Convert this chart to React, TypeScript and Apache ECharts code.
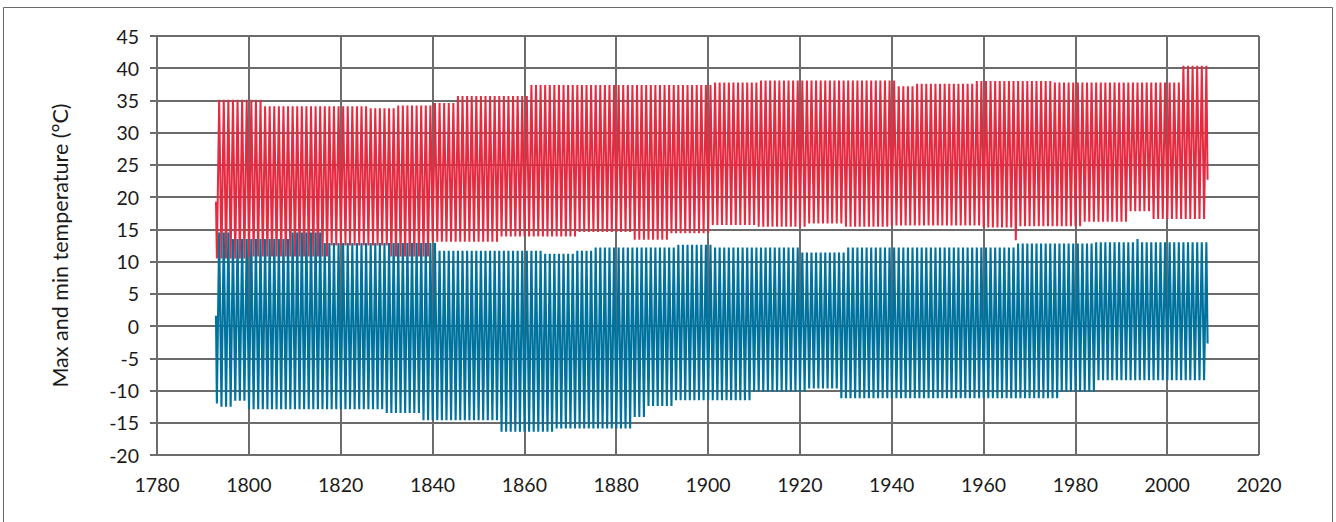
import React, { useEffect, useRef } from "react";
import * as echarts from "echarts";

// X-axis ticks (years) and Y-axis ticks (°C)
const xTicks = [1780, 1800, 1820, 1840, 1860, 1880, 1900, 1920, 1940, 1960, 1980, 2000, 2020];
const yTicks = [-20, -15, -10, -5, 0, 5, 10, 15, 20, 25, 30, 35, 40, 45];

const firstYear = 1793;
const lastYear = 2008;

// Max temperature: summer peaks (value holds from the given year until the next block)
const maxTopFrom = [1793, 1803, 1826, 1832, 1840, 1845, 1861, 1901, 1911, 1941, 1945, 1958, 1975, 2003];
const maxTopVal = [35.1, 34.1, 33.8, 34.2, 34.6, 35.7, 37.4, 37.8, 38.1, 37.2, 37.6, 38.0, 37.8, 40.4];
// Max temperature: winter troughs
const maxLowFrom = [1793, 1800, 1818, 1831, 1840, 1855, 1872, 1884, 1892, 1901, 1911, 1922, 1930, 1940, 1960, 1967, 1968, 1982, 1992, 1997];
const maxLowVal = [10.5, 10.8, 12.5, 10.8, 13.1, 13.9, 14.6, 13.4, 14.4, 15.7, 15.4, 15.9, 15.4, 15.6, 15.3, 13.3, 15.5, 16.2, 17.8, 16.6];

// Min temperature: summer peaks
const minTopFrom = [1793, 1796, 1809, 1816, 1841, 1864, 1871, 1875, 1893, 1901, 1920, 1930, 1967, 1984, 1993, 1994];
const minTopVal = [14.5, 13.5, 14.5, 12.9, 11.7, 11.2, 11.7, 12.2, 12.6, 12.2, 11.4, 12.2, 12.8, 13.0, 13.5, 13.0];
// Min temperature: winter troughs
const minLowFrom = [1793, 1794, 1797, 1800, 1830, 1838, 1855, 1867, 1884, 1887, 1893, 1910, 1922, 1929, 1977, 1985];
const minLowVal = [-12.0, -12.5, -11.6, -12.9, -13.5, -14.6, -16.4, -15.9, -14.1, -12.4, -11.5, -10.2, -9.7, -11.2, -10.2, -8.4];

// First and last (partial-year) readings
const startTime = 1792.85;
const startMax = 19.3;
const startMin = 1.6;
const endTime = 2008.8;
const endMax = 22.7;
const endMin = -2.7;

const lookup = (from: number[], val: number[], year: number) => {
  let v = val[0];
  for (let i = 0; i < from.length; i++) {
    if (year >= from[i]) v = val[i];
  }
  return v;
};

const build = (
  lowFrom: number[], lowVal: number[], topFrom: number[], topVal: number[],
  s: number, e: number
) => {
  const pts: number[][] = [[startTime, s]];
  for (let y = firstYear; y <= lastYear; y++) {
    pts.push([y + 0.04, lookup(lowFrom, lowVal, y)]);
    pts.push([y + 0.54, lookup(topFrom, topVal, y)]);
  }
  pts.push([endTime, e]);
  return pts;
};

const maxSeries = build(maxLowFrom, maxLowVal, maxTopFrom, maxTopVal, startMax, endMax);
const minSeries = build(minLowFrom, minLowVal, minTopFrom, minTopVal, startMin, endMin);

const FONT = "Lato, 'Open Sans', sans-serif";
const GRID_COLOR = "#6c6c6c";

export default function App() {
  const ref = useRef<HTMLDivElement>(null);
  useEffect(() => {
    if (!ref.current) return;
    const chart = echarts.init(ref.current, undefined, { renderer: "svg" });
    chart.setOption({
      animation: false,
      backgroundColor: "#ffffff",
      graphic: [
        {
          type: "rect",
          shape: { x: 3.5, y: 7.5, width: 1329, height: 530 },
          style: { fill: "none", stroke: "#6a6a6a", lineWidth: 1 },
          silent: true,
        },
      ],
      grid: { left: 157, right: 77, top: 36, bottom: 67, containLabel: false },
      xAxis: {
        type: "value",
        min: xTicks[0],
        max: xTicks[xTicks.length - 1],
        interval: xTicks[1] - xTicks[0],
        axisLine: { show: true, lineStyle: { color: GRID_COLOR, width: 2 } },
        axisTick: { show: true, length: 7, lineStyle: { color: GRID_COLOR, width: 2 } },
        splitLine: { show: true, lineStyle: { color: GRID_COLOR, width: 2 } },
        axisLabel: {
          color: "#1a1a1a",
          fontSize: 19.5,
          fontFamily: FONT,
          margin: 19,
          formatter: (v: number) => String(v),
        },
      },
      yAxis: {
        type: "value",
        min: yTicks[0],
        max: yTicks[yTicks.length - 1],
        interval: yTicks[1] - yTicks[0],
        name: "Max and min temperature (°C)",
        nameLocation: "middle",
        nameGap: 86,
        nameTextStyle: { color: "#1a1a1a", fontSize: 21.5, fontFamily: FONT },
        axisLine: { show: true, lineStyle: { color: GRID_COLOR, width: 2 } },
        axisTick: { show: true, length: 7, lineStyle: { color: GRID_COLOR, width: 2 } },
        splitLine: { show: true, lineStyle: { color: GRID_COLOR, width: 2 } },
        axisLabel: {
          color: "#1a1a1a",
          fontSize: 19.5,
          fontFamily: FONT,
          margin: 18,
          formatter: (v: number) => String(v),
        },
      },
      series: [
        {
          name: "Max",
          type: "line",
          data: maxSeries,
          showSymbol: false,
          symbol: "none",
          lineStyle: { color: "#E62A3F", width: 2 },
          z: 2,
        },
        {
          name: "Min",
          type: "line",
          data: minSeries,
          showSymbol: false,
          symbol: "none",
          lineStyle: { color: "#00729E", width: 2.1 },
          z: 3,
        },
      ],
    });
    return () => chart.dispose();
  }, []);
  return (
    <div
      ref={ref}
      style={{ position: "absolute", left: 0, top: 0, width: 1336, height: 522 }}
    />
  );
}
